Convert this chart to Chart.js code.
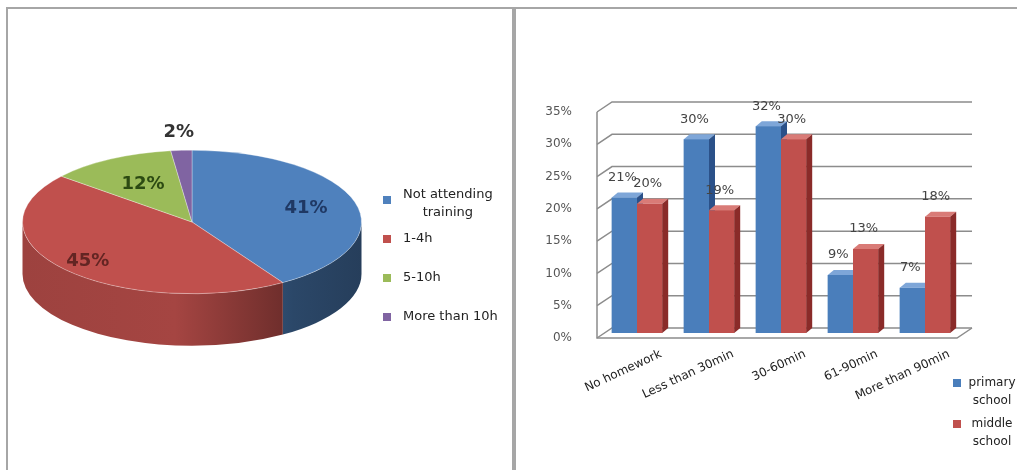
<!DOCTYPE html>
<html>
<head>
<meta charset="utf-8">
<script src="https://cdn.jsdelivr.net/npm/chart.js@4"></script>
<style>
  html, body { margin: 0; padding: 0; background: #fff; }
  body { width: 1017px; height: 470px; position: relative; overflow: hidden; }
  .line { position: absolute; background: #a6a6a6; }
  canvas { position: absolute; }
</style>
</head>
<body>
<div class="line" style="left:6px;top:7px;width:1011px;height:2px"></div>
<div class="line" style="left:6px;top:7px;width:2px;height:463px"></div>
<div class="line" style="left:512px;top:7px;width:4px;height:463px"></div>
<canvas id="timeChart" width="504" height="460" style="left:8px;top:10px"></canvas>
<canvas id="homeworkChart" width="500" height="460" style="left:517px;top:10px"></canvas>
<script>
// ===============================
// DATA
// ===============================
const timeLabels = ['Not attending training', '1-4h', '5-10h', 'More than 10h'];
const timeShares = [41, 45, 12, 2];

const homeworkLabels = ['No homework', 'Less than 30min', '30-60min', '61-90min', 'More than 90min'];
const primaryShares = [21, 30, 32, 9, 7];
const middleShares = [20, 19, 30, 13, 18];
const schoolLabels = ['primary school', 'middle school'];

// ===============================
// helpers
// ===============================
const FONT = "'DejaVu Sans', sans-serif";
const pieColors = ['#4f81bd', '#c0504d', '#9bbb59', '#8064a2'];
const pieLabelColors = ['#1f3864', '#632523', '#2c4a12', '#333333'];

function shade(hex, f) {
  const n = parseInt(hex.slice(1), 16);
  const r = Math.round(((n >> 16) & 255) * f);
  const g = Math.round(((n >> 8) & 255) * f);
  const b = Math.round((n & 255) * f);
  return `rgb(${r},${g},${b})`;
}

function wrap(ctx, text, maxW) {
  const words = text.split(' ');
  const lines = [];
  let cur = '';
  words.forEach(w => {
    const test = cur ? cur + ' ' + w : w;
    if (cur && ctx.measureText(test).width > maxW) {
      lines.push(cur);
      cur = w;
    } else {
      cur = test;
    }
  });
  if (cur) lines.push(cur);
  return lines;
}

// ===============================
// PIE (flattened, with a side wall)
// ===============================
const PIE = { cy: 212, squash: 0.4235, depth: 52, labelR: [0.7, 0.82, 0.6, 1.25] };

const pie3d = {
  id: 'pie3d',
  beforeDatasetsDraw(chart) {
    const ctx = chart.ctx;
    const arcs = chart.getDatasetMeta(0).data;
    const cx = arcs[0].x, r = arcs[0].outerRadius, ry = r * PIE.squash;

    arcs.forEach((arc, i) => {
      const s = Math.max(arc.startAngle, 0);
      const e = Math.min(arc.endAngle, Math.PI);
      if (e <= s) return;
      const g = ctx.createLinearGradient(cx - r, 0, cx + r, 0);
      g.addColorStop(0, shade(pieColors[i], 0.82));
      g.addColorStop(0.45, shade(pieColors[i], 0.86));
      g.addColorStop(0.8, shade(pieColors[i], 0.55));
      g.addColorStop(1, shade(pieColors[i], 0.48));
      ctx.beginPath();
      ctx.ellipse(cx, PIE.cy, r, ry, 0, s, e);
      ctx.lineTo(cx + r * Math.cos(e), PIE.cy + ry * Math.sin(e) + PIE.depth);
      ctx.ellipse(cx, PIE.cy + PIE.depth, r, ry, 0, e, s, true);
      ctx.closePath();
      ctx.fillStyle = g;
      ctx.fill();
    });

    ctx.save();
    ctx.translate(0, PIE.cy);
    ctx.scale(1, PIE.squash);
    ctx.translate(0, -arcs[0].y);
  },
  afterDatasetsDraw(chart) {
    const ctx = chart.ctx;
    ctx.restore();

    const arcs = chart.getDatasetMeta(0).data;
    const cx = arcs[0].x, r = arcs[0].outerRadius, ry = r * PIE.squash;

    ctx.save();
    ctx.font = `bold 18px ${FONT}`;
    ctx.textAlign = 'center';
    ctx.textBaseline = 'middle';
    arcs.forEach((arc, i) => {
      const mid = (arc.startAngle + arc.endAngle) / 2;
      const f = PIE.labelR[i];
      ctx.fillStyle = pieLabelColors[i];
      ctx.fillText(timeShares[i] + '%', cx + f * r * Math.cos(mid), PIE.cy + f * ry * Math.sin(mid));
    });
    ctx.restore();

    // legend
    ctx.save();
    ctx.font = `13px ${FONT}`;
    ctx.textBaseline = 'middle';
    timeLabels.forEach((lab, i) => {
      const c = 190 + i * 39;
      const lines = wrap(ctx, lab, 110);
      ctx.fillStyle = pieColors[i];
      ctx.fillRect(375, c - 4, 8, 8);
      ctx.fillStyle = '#222';
      if (lines.length === 1) {
        ctx.textAlign = 'left';
        ctx.fillText(lab, 395, c);
      } else {
        const w = Math.max(...lines.map(l => ctx.measureText(l).width));
        ctx.textAlign = 'center';
        lines.forEach((l, k) => {
          ctx.fillText(l, 395 + w / 2, c - 5 + k * 18);
        });
      }
    });
    ctx.restore();
  }
};

new Chart(document.getElementById('timeChart').getContext('2d'), {
  type: 'pie',
  data: {
    labels: timeLabels,
    datasets: [{
      data: timeShares,
      backgroundColor: pieColors,
      borderColor: 'rgba(255,255,255,0.45)',
      borderWidth: 1
    }]
  },
  options: {
    responsive: false,
    animation: false,
    events: [],
    layout: { padding: { left: 14, right: 150, top: 60, bottom: 60 } },
    plugins: { legend: { display: false }, tooltip: { enabled: false } }
  },
  plugins: [pie3d]
});

// ===============================
// BARS (pseudo 3D)
// ===============================
const D3 = { bar: [6, -5], front: [-4, 5], back: [11, -5] };
const barColors = [
  { front: '#4a7ebb', top: '#7ea6d8', side: '#2b5189' },
  { front: '#c0504d', top: '#d97b77', side: '#8a2b29' }
];

const bar3d = {
  id: 'bar3d',
  beforeDatasetsDraw(chart) {
    const { ctx, chartArea: ca, scales: { y } } = chart;
    const [fx, fy] = D3.front, [bx, by] = D3.back;
    ctx.save();
    ctx.strokeStyle = '#8c8c8c';
    ctx.lineWidth = 1.5;
    y.ticks.forEach(t => {
      const py = y.getPixelForValue(t.value);
      ctx.beginPath();
      ctx.moveTo(ca.left + fx, py + fy);
      ctx.lineTo(ca.left + bx, py + by);
      ctx.lineTo(ca.right + bx, py + by);
      ctx.stroke();
    });
    const y0 = y.getPixelForValue(y.min), yTop = y.getPixelForValue(y.max);
    ctx.beginPath();
    ctx.moveTo(ca.left + fx, yTop + fy);
    ctx.lineTo(ca.left + fx, y0 + fy);
    ctx.lineTo(ca.right + fx, y0 + fy);
    ctx.lineTo(ca.right + bx, y0 + by);
    ctx.stroke();
    ctx.restore();
  },
  afterDatasetsDraw(chart) {
    const ctx = chart.ctx;
    const [dx, dy] = D3.bar;

    // redraw left-to-right so each red front covers the blue side wall
    ctx.save();
    chart.data.datasets.forEach((ds, di) => {
      const col = barColors[di];
      chart.getDatasetMeta(di).data.forEach(el => {
        el.draw(ctx);
        const { x, y, width, base } = el.getProps(['x', 'y', 'width', 'base'], true);
        const l = x - width / 2, r = x + width / 2;
        ctx.fillStyle = col.top;
        ctx.beginPath();
        ctx.moveTo(l, y); ctx.lineTo(l + dx, y + dy); ctx.lineTo(r + dx, y + dy); ctx.lineTo(r, y);
        ctx.closePath(); ctx.fill();
        ctx.fillStyle = col.side;
        ctx.beginPath();
        ctx.moveTo(r, y); ctx.lineTo(r + dx, y + dy); ctx.lineTo(r + dx, base + dy); ctx.lineTo(r, base);
        ctx.closePath(); ctx.fill();
      });
    });
    ctx.restore();

    ctx.save();
    ctx.font = `13px ${FONT}`;
    ctx.fillStyle = '#444';
    ctx.textAlign = 'center';
    ctx.textBaseline = 'middle';
    chart.data.datasets.forEach((ds, di) => {
      chart.getDatasetMeta(di).data.forEach((el, i) => {
        ctx.fillText(ds.data[i] + '%', el.x - 2, el.y - 20);
      });
    });
    ctx.restore();

    // legend
    ctx.save();
    ctx.font = `12px ${FONT}`;
    ctx.textBaseline = 'middle';
    ctx.textAlign = 'center';
    schoolLabels.forEach((lab, i) => {
      const c = 373 + i * 41;
      ctx.fillStyle = barColors[i].front;
      ctx.fillRect(436, c - 4, 8, 8);
      ctx.fillStyle = '#222';
      wrap(ctx, lab, 50).forEach((l, k) => ctx.fillText(l, 475, c + k * 18));
    });
    ctx.restore();
  }
};

new Chart(document.getElementById('homeworkChart').getContext('2d'), {
  type: 'bar',
  data: {
    labels: homeworkLabels,
    datasets: [
      { label: schoolLabels[0], data: primaryShares, backgroundColor: barColors[0].front },
      { label: schoolLabels[1], data: middleShares, backgroundColor: barColors[1].front }
    ]
  },
  options: {
    responsive: false,
    animation: false,
    events: [],
    datasets: { bar: { categoryPercentage: 0.7, barPercentage: 1 } },
    layout: { padding: { left: 0, right: 56, top: 97, bottom: 27 } },
    scales: {
      x: {
        grid: { display: false, drawTicks: false },
        border: { display: false },
        ticks: {
          color: '#222',
          font: { family: FONT, size: 12 },
          minRotation: 25,
          maxRotation: 25,
          autoSkip: false,
          labelOffset: 24,
          padding: 14
        },
        afterFit(s) { s.height = 110; }
      },
      y: {
        min: 0,
        max: 35,
        grid: { display: false, drawTicks: false },
        border: { display: false },
        ticks: {
          stepSize: 5,
          color: '#555',
          font: { family: FONT, size: 12 },
          padding: 29,
          labelOffset: 5,
          callback: v => v + '%'
        },
        afterFit(s) { s.width = 84; }
      }
    },
    plugins: { legend: { display: false }, tooltip: { enabled: false } }
  },
  plugins: [bar3d]
});
</script>
</body>
</html>
